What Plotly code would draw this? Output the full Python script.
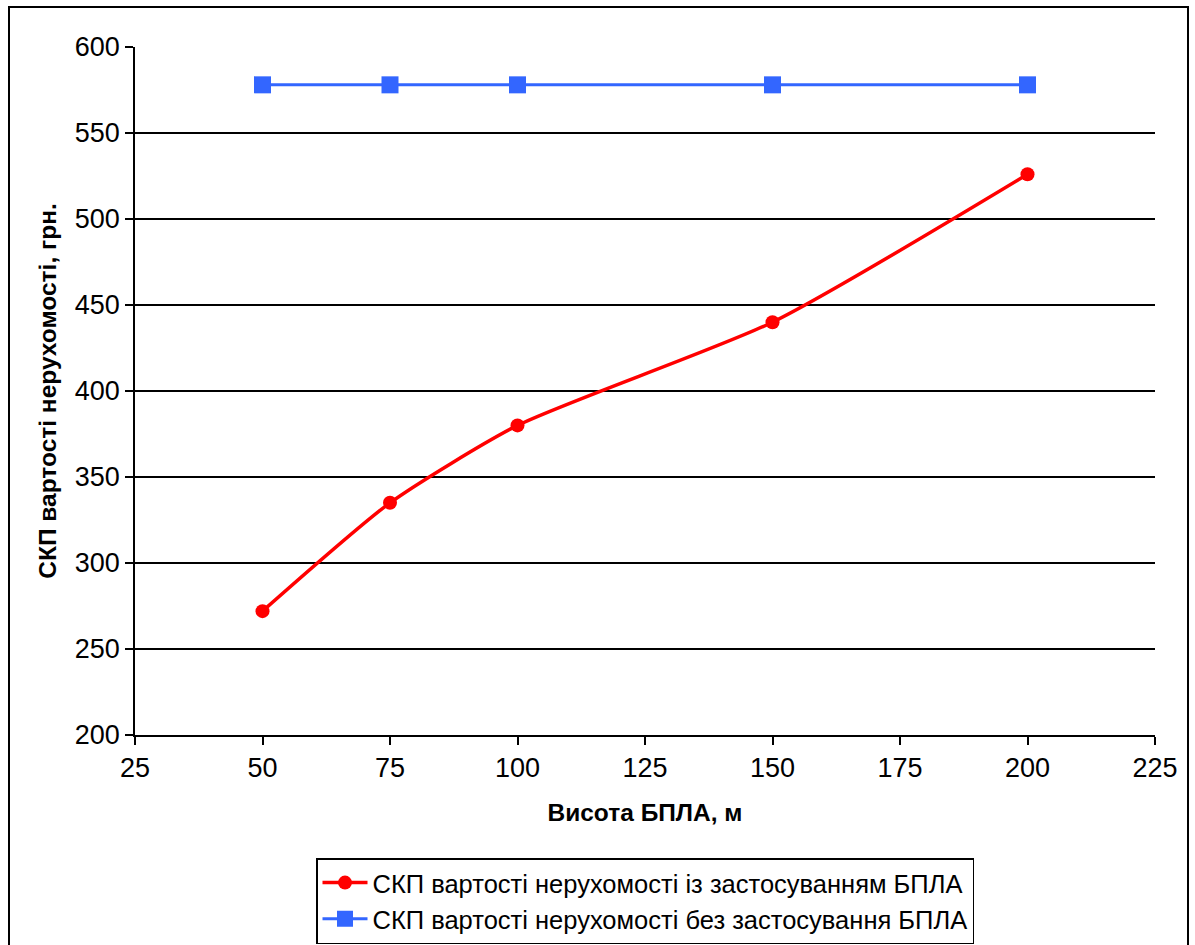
import plotly.graph_objects as go

x_heights = [50, 75, 100, 150, 200]
y_with_uav = [272, 335, 380, 440, 526]
y_without_uav = [578, 578, 578, 578, 578]

name_with = "СКП вартості нерухомості із застосуванням БПЛА"
name_without = "СКП вартості нерухомості без застосування БПЛА"
x_title = "Висота БПЛА, м"
y_title = "СКП вартості нерухомості, грн."

FONT = "Liberation Sans, Arial, sans-serif"

fig = go.Figure()
fig.add_trace(go.Scatter(
    x=x_heights, y=y_with_uav, name=name_with, mode="lines+markers",
    line=dict(color="#FF0000", width=3.5, shape="spline", smoothing=0.6),
    marker=dict(symbol="circle", size=14, color="#FF0000"),
))
fig.add_trace(go.Scatter(
    x=x_heights, y=y_without_uav, name=name_without, mode="lines+markers",
    line=dict(color="#3366FF", width=3),
    marker=dict(symbol="square", size=17, color="#3366FF"),
))

L, R, T, B = 135, 40, 47, 210
W, H = 1195, 945
pw, ph = W - L - R, H - T - B

def px2x(px):
    return (px - L) / pw

def py2y(py):
    return (H - B - py) / ph

fig.add_shape(type="rect", xref="paper", yref="paper",
              x0=px2x(9), x1=px2x(1188), y0=py2y(1000), y1=py2y(7),
              line=dict(color="black", width=2), fillcolor="rgba(0,0,0,0)", layer="below")

fig.update_layout(
    width=W, height=H,
    margin=dict(l=L, r=R, t=T, b=B, autoexpand=False),
    paper_bgcolor="white", plot_bgcolor="white",
    font=dict(family=FONT, color="black", size=25),
    showlegend=True,
    legend=dict(
        x=px2x(316), y=py2y(858), xanchor="left", yanchor="top",
        bordercolor="black", borderwidth=1.5, bgcolor="white",
        font=dict(size=25.5, family=FONT), tracegroupgap=2,
        itemwidth=45,
    ),
    xaxis=dict(
        range=[25, 225], tickmode="array", tickvals=[25, 50, 75, 100, 125, 150, 175, 200, 225],
        showgrid=False, zeroline=False, showline=True, linecolor="black", linewidth=1.5,
        ticks="outside", ticklen=8, tickcolor="black", tickwidth=1.5,
        tickfont=dict(size=27), automargin=False,
        title=dict(text="<b>" + x_title + "</b>", font=dict(size=24.5), standoff=22),
    ),
    yaxis=dict(
        range=[200, 600], tickmode="array", tickvals=[200, 250, 300, 350, 400, 450, 500, 550, 600],
        showgrid=True, gridcolor="black", gridwidth=1.5, zeroline=False,
        showline=True, linecolor="black", linewidth=1.5,
        ticks="outside", ticklen=8, tickcolor="black", tickwidth=1.5,
        tickfont=dict(size=27), automargin=False,
        title=dict(text="<b>" + y_title + "</b>", font=dict(size=24.5), standoff=11),
    ),
)

fig.write_html("out.html")
